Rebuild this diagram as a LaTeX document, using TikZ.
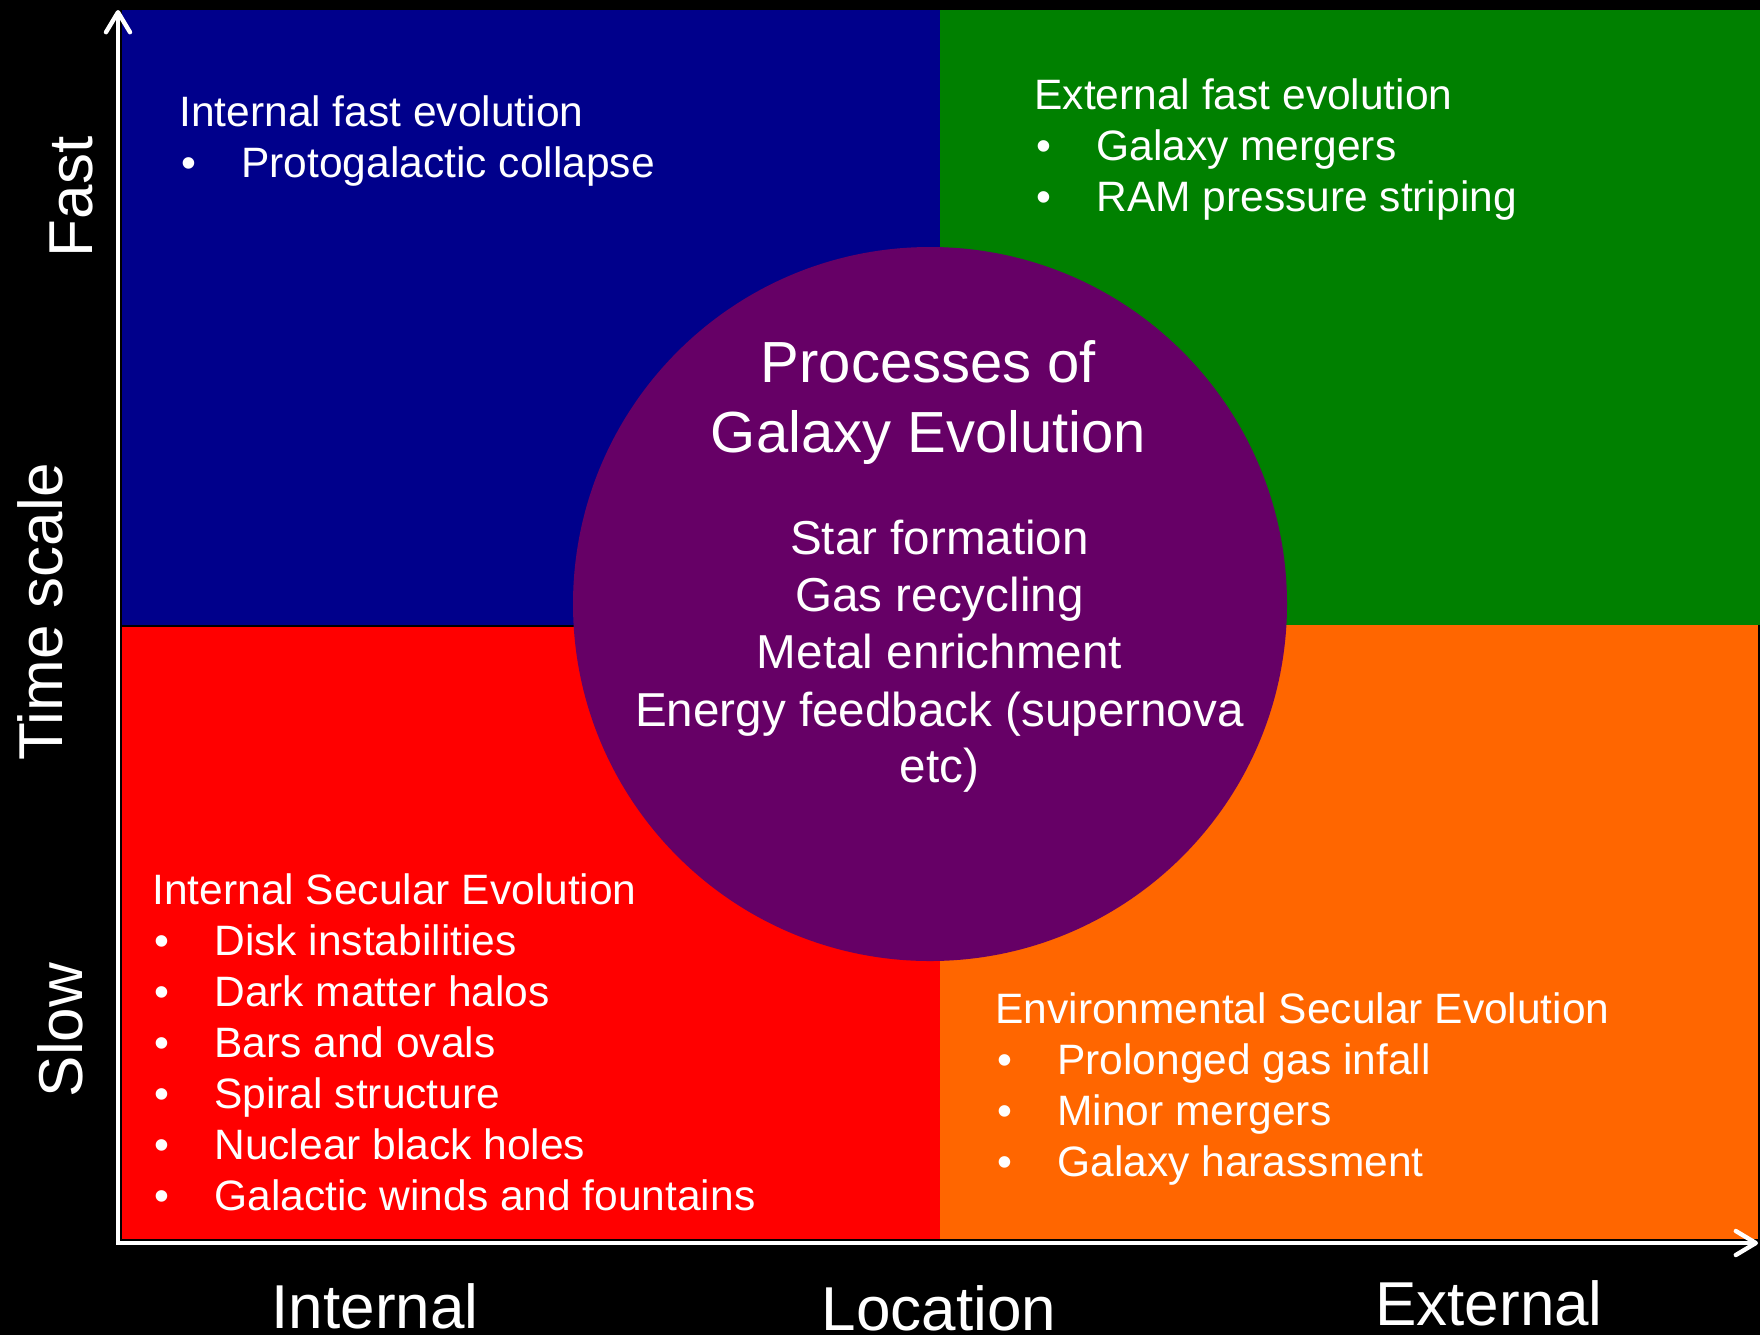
\documentclass[tikz,border=0pt]{standalone}
\usepackage{fontspec}
\setmainfont{Liberation Sans}
\usetikzlibrary{arrows.meta}
\definecolor{qblue}{RGB}{0,0,139}
\definecolor{qgreen}{RGB}{0,128,0}
\definecolor{qred}{RGB}{255,0,0}
\definecolor{qorange}{RGB}{255,102,0}
\definecolor{qpurple}{RGB}{102,0,102}
% bullet with a hanging indent
\newcommand\bul[1]{\makebox[30pt][l]{\textbullet}#1}
\begin{document}
\begin{tikzpicture}[x=0.5pt,y=-0.5pt,
  qtext/.style={anchor=base west, inner sep=0pt, text=white, font=\fontsize{21.25}{25}\selectfont},
  ctitle/.style={anchor=base, inner sep=0pt, text=white, font=\fontsize{29}{35}\selectfont},
  cbody/.style={anchor=base, inner sep=0pt, text=white, font=\fontsize{23.8}{28}\selectfont},
  axlabel/.style={anchor=base, inner sep=0pt, text=white, font=\fontsize{31}{37}\selectfont},
  axisline/.style={draw=white, line width=2pt, line join=miter,
    {Straight Barb[length=10pt,width=12pt,line width=2.2pt,round]}-{Straight Barb[length=10pt,width=12pt,line width=2.2pt,round]}},
]
% canvas
\fill[black] (0,0) rectangle (1760,1335);
\useasboundingbox (0,0) rectangle (1760,1335);

% four quadrants
\fill[qblue]   (122,10)  rectangle (940,625);
\fill[qgreen]  (940,10)  rectangle (1760,625);
\fill[qred]    (122,625) rectangle (940,1239);
\fill[qorange] (940,625) rectangle (1758,1239);
\draw[black, line width=1.2pt] (122,626) -- (940,626);

% axes
\coordinate (origin) at (118,1243);
\coordinate (ytip) at (118,10);
\coordinate (xtip) at (1758,1243);
\draw[axisline] (ytip) -- (origin) -- (xtip);

% axis labels
\node[axlabel] (lint) at (375,1328) {Internal};
\node[axlabel] (lloc) at (939,1330) {Location};
\node[axlabel] (lext) at (1489,1325) {External};
\node[axlabel, rotate=90] (lfast) at (92,197) {Fast};
\node[axlabel, rotate=90] (ltime) at (62,612) {Time scale};
\node[axlabel, rotate=90] (lslow) at (82,1030) {Slow};

% central circle
\node[circle, fill=qpurple, minimum size=357pt, inner sep=0pt] (core) at (930,604) {};
\node[ctitle] (ct1) at (928.5,382) {Processes of};
\node[ctitle] (ct2) at (928.5,452) {Galaxy Evolution};
\node[cbody] (cb1) at (939.5,554) {Star formation};
\node[cbody] (cb2) at (939.5,611.5) {Gas recycling};
\node[cbody] (cb3) at (939.5,668.5) {Metal enrichment};
\node[cbody] (cb4) at (939.5,726) {Energy feedback (supernova};
\node[cbody] (cb5) at (939.5,782) {etc)};

% internal fast evolution
\node[qtext] (if0) at (179,126) {Internal fast evolution};
\node[qtext] (if1) at (181,177) {\bul{Protogalactic collapse}};

% external fast evolution
\node[qtext] (ef0) at (1034,109) {External fast evolution};
\node[qtext] (ef1) at (1036,160) {\bul{Galaxy mergers}};
\node[qtext] (ef2) at (1036,211) {\bul{RAM pressure striping}};

% internal secular evolution
\node[qtext] (is0) at (152,904) {Internal Secular Evolution};
\node[qtext] (is1) at (154,955) {\bul{Disk instabilities}};
\node[qtext] (is2) at (154,1006) {\bul{Dark matter halos}};
\node[qtext] (is3) at (154,1057) {\bul{Bars and ovals}};
\node[qtext] (is4) at (154,1108) {\bul{Spiral structure}};
\node[qtext] (is5) at (154,1159) {\bul{Nuclear black holes}};
\node[qtext] (is6) at (154,1210) {\bul{Galactic winds and fountains}};

% environmental secular evolution
\node[qtext] (es0) at (995,1023) {Environmental Secular Evolution};
\node[qtext] (es1) at (997,1074) {\bul{Prolonged gas infall}};
\node[qtext] (es2) at (997,1125) {\bul{Minor mergers}};
\node[qtext] (es3) at (997,1176) {\bul{Galaxy harassment}};
\end{tikzpicture}
\end{document}
